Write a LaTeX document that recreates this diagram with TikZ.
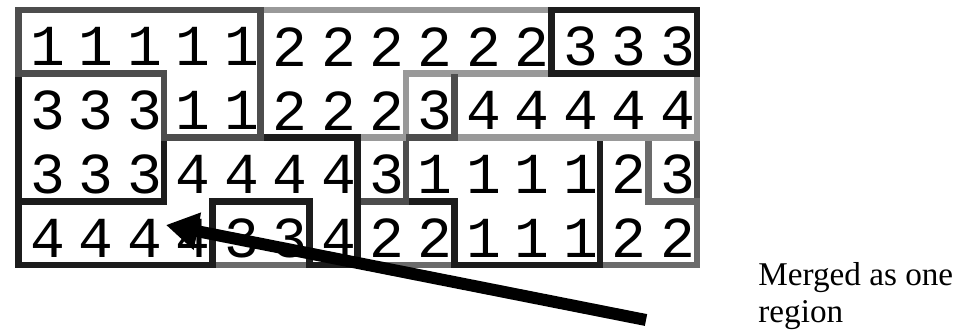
\documentclass[tikz,border=0pt]{standalone}
\usepackage{fontspec}
\setmainfont{Liberation Serif}
\newfontfamily\cellfont{Liberation Mono}
\usetikzlibrary{arrows.meta}
\definecolor{reg_black}{RGB}{28,28,28}
\definecolor{reg_dark}{RGB}{77,77,77}
\definecolor{reg_mid}{RGB}{107,107,107}
\definecolor{reg_light}{RGB}{153,153,153}

\begin{document}
\begin{tikzpicture}[x=0.5pt, y=-0.5pt,
          bd/.style={line width=3.3pt, line join=miter},
          cell/.style={font=\cellfont\fontsize{29}{29}\selectfont, inner sep=0pt,
                       xshift=2.5pt, yshift=-2.5pt},
          note/.style={font=\fontsize{16.6}{18.5}\selectfont, align=left,
                       anchor=north west, inner sep=0pt},
          arr/.style={line width=6pt, -{Triangle[length=16pt,width=18pt]}}]
  \useasboundingbox (0,0) rectangle (959,333);
  \begin{scope}[shift={(18.5,10)}, x=24.225pt, y=-31.875pt]
    % labels of the grid
    \foreach \cells [count=\r from 0] in {%
        {1,1,1,1,1,2,2,2,2,2,2,3,3,3},
        {3,3,3,1,1,2,2,2,3,4,4,4,4,4},
        {3,3,3,4,4,4,4,3,1,1,1,1,2,3},
        {4,4,4,4,3,3,4,2,2,1,1,1,2,2}}
      \foreach \v [count=\k from 0] in \cells
        \node[cell] (c\r-\k) at (\k+0.5,\r+0.5) {\v};
    % region outlines, later ones drawn over earlier ones
    \draw[bd, reg_dark] (13,2) rectangle (14,3);
    \draw[bd, reg_mid] (12,2) -- (13,2) -- (13,3) -- (14,3) -- (14,4) -- (12,4) -- cycle;
    \draw[bd, reg_mid] (7,3) rectangle (9,4);
    \draw[bd, reg_mid] (4,3) rectangle (6,4);
    \draw[bd, reg_black] (8,2) -- (12,2) -- (12,4) -- (9,4) -- (9,3) -- (8,3) -- cycle;
    \draw[bd, reg_dark] (7,2) rectangle (8,3);
    \draw[bd, reg_black] (0,1) rectangle (3,3);
    \draw[bd, reg_light] (5,0) -- (11,0) -- (11,1) -- (8,1) -- (8,2) -- (5,2) -- cycle;
    \draw[bd, reg_black] (0,3) -- (3,3) -- (3,2) -- (7,2) -- (7,4) -- (6,4)
      -- (6,3) -- (4,3) -- (4,4) -- (0,4) -- cycle;
    \draw[bd, reg_light] (9,1) rectangle (14,2);
    \draw[bd, reg_dark] (8,2) -- (9,2) -- (9,1);
    \draw[bd, reg_black] (11,0) rectangle (14,1);
    \draw[bd, reg_dark] (0,0) -- (5,0) -- (5,2) -- (3,2) -- (3,1) -- (0,1) -- cycle;
  \end{scope}
  \coordinate (tail) at (646,320);
  \coordinate (tip) at (166,225);
  \draw[arr] (tail) -- (tip);
  \node[note] (merged) at (758,262) {Merged as one\\region};
\end{tikzpicture}
\end{document}
